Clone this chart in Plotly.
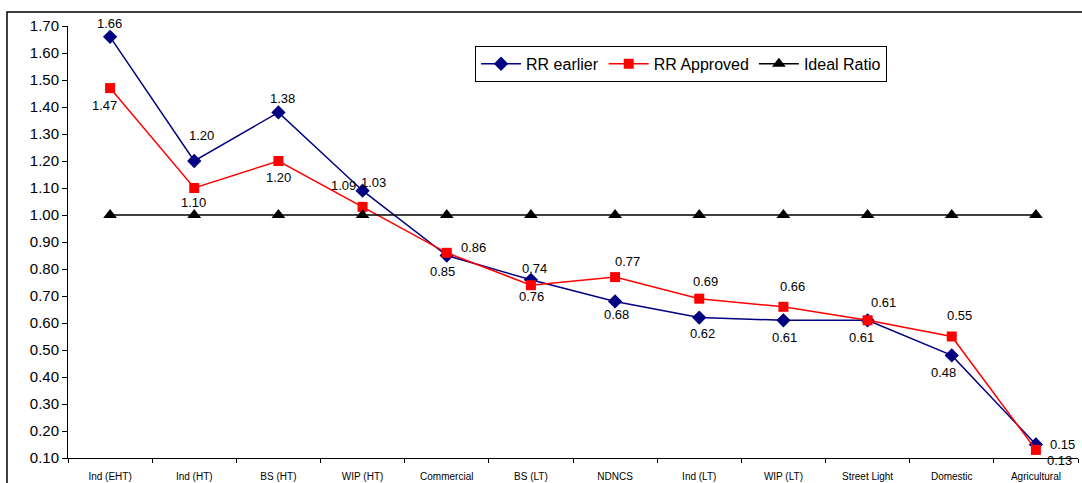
import plotly.graph_objects as go

# Category names along the x axis
categories = ["Ind (EHT)", "Ind (HT)", "BS (HT)", "WIP (HT)", "Commercial", "BS (LT)",
              "NDNCS", "Ind (LT)", "WIP (LT)", "Street Light", "Domestic", "Agricultural"]

# Ratio values per series
rr_earlier = [1.66, 1.20, 1.38, 1.09, 0.85, 0.76, 0.68, 0.62, 0.61, 0.61, 0.48, 0.15]
rr_approved = [1.47, 1.10, 1.20, 1.03, 0.86, 0.74, 0.77, 0.69, 0.66, 0.61, 0.55, 0.13]
ideal_ratio = [1.00] * 12

y_ticks = [0.10, 0.20, 0.30, 0.40, 0.50, 0.60, 0.70, 0.80, 0.90, 1.00,
           1.10, 1.20, 1.30, 1.40, 1.50, 1.60, 1.70]

# Pixel offsets (dx, dy) of each value label from its marker
earlier_label_offsets = [(-1, 13), (7, 26), (4, 14), (-19, 5), (-4, -16), (1, -17),
                         (1, -13), (3, -16), (1, -17), (-6, -17), (-8, -17), (27, 0)]
approved_label_offsets = [(-6, -17), (-1, -14), (0, -16), (11, 24), (27, 5), (4, 17),
                          (12, 16), (6, 17), (9, 20), (16, 18), (8, 21), (24, -11)]

FONT = "Liberation Sans, Arial, sans-serif"

fig = go.Figure()
fig.add_trace(go.Scatter(
    x=categories, y=rr_earlier, name="RR earlier", mode="lines+markers",
    line=dict(color="#000080", width=1.5),
    marker=dict(symbol="diamond", size=11, color="#000080"),
))
fig.add_trace(go.Scatter(
    x=categories, y=rr_approved, name="RR Approved", mode="lines+markers",
    line=dict(color="#FF0000", width=1.5),
    marker=dict(symbol="square", size=10, color="#FF0000"),
))
fig.add_trace(go.Scatter(
    x=categories, y=ideal_ratio, name="Ideal Ratio", mode="lines+markers",
    line=dict(color="#000000", width=1.5),
    marker=dict(symbol="triangle-up", size=12, color="#000000"),
))

annotations = []
for values, offsets in ((rr_earlier, earlier_label_offsets), (rr_approved, approved_label_offsets)):
    for cat, val, (dx, dy) in zip(categories, values, offsets):
        annotations.append(dict(
            x=cat, y=val, xref="x", yref="y", text=f"{val:.2f}", showarrow=False,
            xshift=dx, yshift=dy, font=dict(family=FONT, size=13, color="#000000"),
        ))

fig.update_layout(
    width=1082, height=483,
    margin=dict(l=68, r=4, t=26, b=25),
    paper_bgcolor="white", plot_bgcolor="white",
    font=dict(family=FONT, color="#000000"),
    showlegend=True,
    legend=dict(
        orientation="h", x=0.403, y=0.954, xanchor="left", yanchor="top",
        bordercolor="#000000", borderwidth=1, bgcolor="white",
        font=dict(family=FONT, size=16), itemwidth=40,
        tracegroupgap=0,
    ),
    annotations=annotations,
    shapes=[dict(
        type="rect", xref="paper", yref="paper",
        x0=-0.0604, x1=1.05, y0=-0.2, y1=1.0324,
        line=dict(color="#000000", width=1.5), layer="below",
    )],
)

fig.update_xaxes(
    type="category", range=[-0.5, 11.5], showgrid=False, zeroline=False,
    showline=True, linecolor="#000000", linewidth=1,
    ticks="outside", ticklen=4, tickcolor="#000000", tickson="boundaries",
    ticklabelstandoff=9, automargin=False,
    tickfont=dict(family=FONT, size=10),
)
fig.update_yaxes(
    range=[0.1, 1.7], tickvals=y_ticks, ticktext=[f"{v:.2f}" for v in y_ticks],
    showgrid=False, zeroline=False,
    showline=True, linecolor="#000000", linewidth=1,
    ticks="outside", ticklen=5, tickcolor="#000000",
    ticklabelstandoff=0, automargin=False,
    tickfont=dict(family=FONT, size=15),
)

fig.write_html("out.html")
